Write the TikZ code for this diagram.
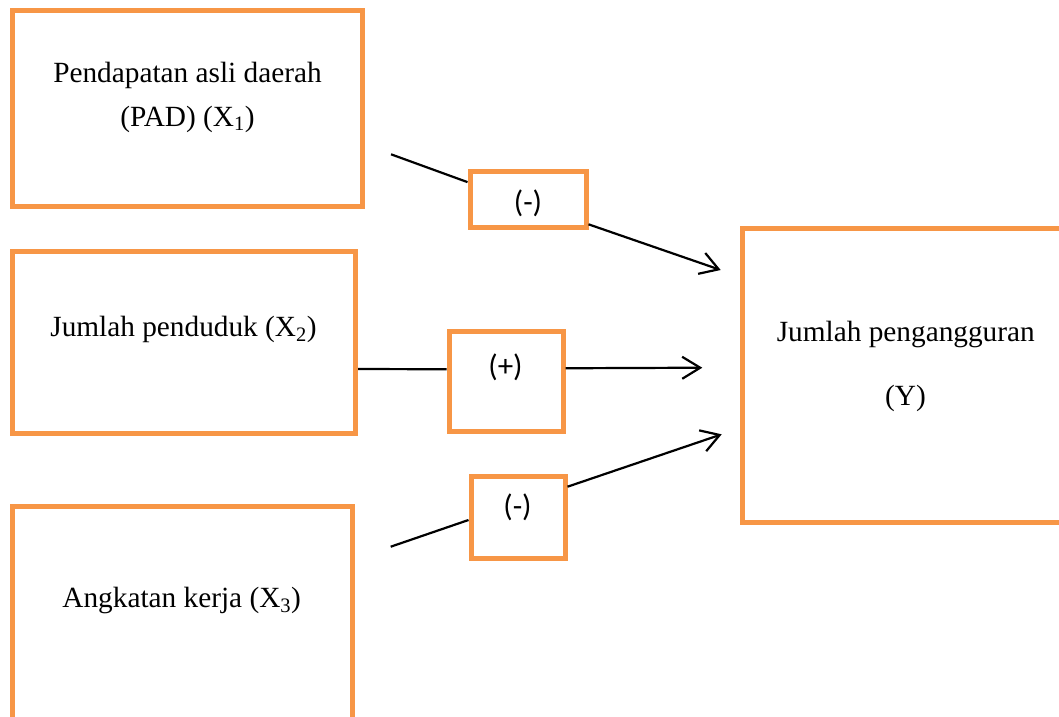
\documentclass[tikz,border=0pt]{standalone}
\usepackage{fontspec}
\setmainfont{Liberation Serif}
\newfontfamily\calfont{Carlito}
\usetikzlibrary{arrows.meta}
\definecolor{boxorange}{HTML}{F79646}
\begin{document}
\begin{tikzpicture}[x=1pt,y=-1pt,
  bigbox/.style={draw=boxorange,line width=5pt,fill=white,rectangle,inner sep=0pt},
  signbox/.style={draw=boxorange,line width=5pt,fill=white,rectangle,inner sep=0pt},
  lbl/.style={inner sep=0pt,anchor=base,align=center,font=\fontsize{29.3}{43.3}\selectfont},
  signlbl/.style={inner sep=0pt,anchor=base,font=\calfont\fontsize{31}{34}\selectfont},
  conn/.style={draw=black,line width=2.2pt},
  arr/.style={conn,-{Straight Barb[length=18pt,width=22pt,line width=2.2pt]}}]
\useasboundingbox (0,0) rectangle (1059,716);
\clip (0,0) rectangle (1059,716);
\fill[white] (0,0) rectangle (1059,716);
% boxes
\node[bigbox,minimum width=350pt,minimum height=196.5pt] (x1) at (187.5,108.25) {};
\node[bigbox,minimum width=343pt,minimum height=182pt] (x2) at (184,342) {};
\node[bigbox,minimum width=339.5pt,minimum height=224pt] (x3) at (182.25,618.3) {};
\node[bigbox,minimum width=326.5pt,minimum height=293.5pt] (y) at (905.75,375.25) {};
\node[signbox,minimum width=116pt,minimum height=56.2pt] (s1) at (528,199.6) {};
\node[signbox,minimum width=114pt,minimum height=100.5pt] (s2) at (506,381.25) {};
\node[signbox,minimum width=94pt,minimum height=82pt] (s3) at (518,517) {};
% labels
\node[lbl] (t1a) at (187.5,82.7) {Pendapatan asli daerah};
\node[lbl] (t1b) at (187.5,126) {(PAD) (X\textsubscript{1})};
\node[lbl] (t2) at (183.5,336.7) {Jumlah penduduk (X\textsubscript{2})};
\node[lbl] (t3) at (181.7,607.7) {Angkatan kerja (X\textsubscript{3})};
\node[lbl] (ty1) at (905.8,341.7) {Jumlah pengangguran};
\node[lbl] (ty2) at (905.5,405) {(Y)};
\node[signlbl] (l1) at (528,212) {(-)};
\node[signlbl] (l2) at (505.5,376) {(+)};
\node[signlbl] (l3) at (517.5,516) {(-)};
% connectors
\coordinate (a1s) at (391,154.3);
\coordinate (a1e) at (720.7,270);
\coordinate (a2e) at (702.3,367.7);
\coordinate (a3s) at (390.7,546.7);
\coordinate (a3e) at (721.7,434.3);
\draw[conn] (a1s) -- ([yshift=17.5pt]s1.west);
\draw[arr] ([yshift=-24.7pt]s1.east) -- (a1e);
\draw[conn] ([yshift=-27pt]x2.east) -- ([yshift=12pt]s2.west);
\draw[arr] ([yshift=13pt]s2.east) -- (a2e);
\draw[conn] (a3s) -- ([yshift=-3pt]s3.west);
\draw[arr] ([yshift=30.3pt]s3.east) -- (a3e);
\end{tikzpicture}
\end{document}
